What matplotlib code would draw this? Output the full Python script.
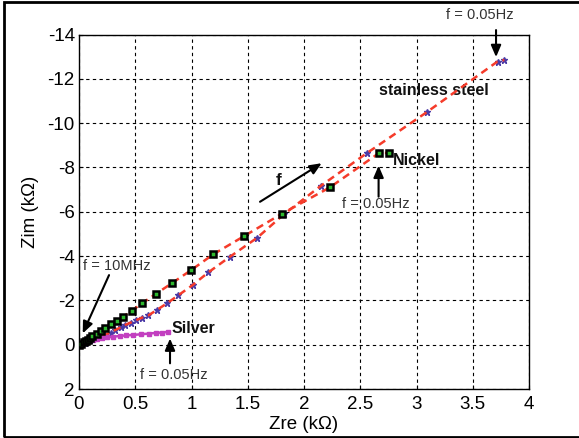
import numpy as np
import matplotlib
matplotlib.use("Agg")
import matplotlib.pyplot as plt
from matplotlib.patches import Rectangle

plt.rcParams['font.family'] = ['Liberation Sans', 'DejaVu Sans']
plt.rcParams['axes.unicode_minus'] = False

# impedance spectra, Zre / Zim in kOhm (Zim negative = capacitive)
nickel_re = [0.0, 0.02, 0.04, 0.06, 0.08, 0.10, 0.116, 0.157, 0.193, 0.231, 0.28,
             0.335, 0.39, 0.468, 0.557, 0.68, 0.824, 0.998, 1.194, 1.464, 1.80,
             2.23, 2.67, 2.756]
nickel_im = [0.0, -0.05, -0.10, -0.16, -0.22, -0.30, -0.39, -0.48, -0.60, -0.75, -0.92,
             -1.09, -1.26, -1.52, -1.86, -2.28, -2.77, -3.37, -4.08, -4.89, -5.90,
             -7.10, -8.66, -8.65]

steel_re = [0.0, 0.05, 0.10, 0.14, 0.19, 0.23, 0.28, 0.32, 0.37, 0.41, 0.46, 0.51,
            0.56, 0.616, 0.69, 0.78, 0.883, 1.01, 1.149, 1.342, 1.585, 1.82, 2.15,
            2.56, 3.09, 3.72, 3.78]
steel_im = [0.0, -0.08, -0.20, -0.29, -0.37, -0.44, -0.55, -0.66, -0.78, -0.89, -1.00,
            -1.11, -1.22, -1.32, -1.56, -1.86, -2.23, -2.69, -3.26, -3.97, -4.83,
            -5.88, -7.17, -8.65, -10.49, -12.78, -12.85]

silver_re = [0.0, 0.02, 0.04, 0.06, 0.09, 0.12, 0.16, 0.20, 0.25, 0.30, 0.36, 0.42,
             0.48, 0.55, 0.62, 0.68, 0.74, 0.79]
silver_im = [0.0, -0.05, -0.10, -0.14, -0.19, -0.23, -0.27, -0.30, -0.33, -0.36, -0.39,
             -0.42, -0.44, -0.47, -0.50, -0.53, -0.55, -0.58]

xticks = np.arange(0, 4.01, 0.5)
xlabels = ['0', '0.5', '1', '1.5', '2', '2.5', '3', '3.5', '4']
yticks = np.arange(-14, 2.01, 2)

red = '#f53b2a'
blue = '#4b3aa6'
magenta = '#c23fc0'

fig = plt.figure(figsize=(5.79, 4.38), dpi=100)
ax = fig.add_axes([79 / 579, 49 / 438, 450 / 579, 354.5 / 438])

# outer frame
fig.patches.append(Rectangle((3.5 / 579, 1.5 / 438), 1.0, 435 / 438,
                             transform=fig.transFigure, fill=False,
                             edgecolor='k', linewidth=2.0, zorder=0))

ax.plot(steel_re, steel_im, linestyle='none', marker='*', ms=4.5, color=blue, zorder=3)
ax.plot(steel_re, steel_im, linestyle=(0, (3, 2)), color=red, lw=1.8, zorder=4)

ax.plot(nickel_re, nickel_im, linestyle=(0, (3, 2)), color=red, lw=1.8, zorder=4)
ax.plot(nickel_re, nickel_im, linestyle='none', marker='s', ms=4.5, mfc='#2fb82f',
        mec='k', mew=1.8, zorder=5)

ax.plot(silver_re, silver_im, linestyle='-', color=magenta, lw=1.8, marker='s',
        ms=3, mfc=magenta, mec=magenta, zorder=4)

ax.set_xlim(0, 4)
ax.set_ylim(2, -14)
ax.set_xticks(xticks)
ax.set_xticklabels(xlabels)
ax.set_yticks(yticks)
ax.tick_params(direction='in', length=3, labelsize=13.5, width=0.8)
ax.tick_params(axis='x', pad=5)
ax.tick_params(axis='y', pad=3)
ax.grid(True, linestyle=(0, (3, 3)), color='k', linewidth=0.8)
for s in ax.spines.values():
    s.set_linewidth(1.0)

ax.set_xlabel('Zre (k\u03a9)', fontsize=13.5, labelpad=2)
ax.set_ylabel('Zim (k\u03a9)', fontsize=13.5, labelpad=6)

arrow = dict(arrowstyle='-|>,head_length=0.7,head_width=0.3', color='k', lw=1.5,
             shrinkA=0, shrinkB=0)
note = dict(fontsize=10.5, color='#333333')
bold = dict(fontsize=11.5, fontweight='bold', color='#111111')

# stainless steel, low-frequency end
ax.annotate('', xy=(3.707, -12.98), xytext=(3.707, -14.2), arrowprops=arrow,
            annotation_clip=False)
ax.text(3.564, -14.88, 'f = 0.05Hz', ha='center', va='center', clip_on=False, **note)
ax.text(2.667, -11.46, 'stainless steel', ha='left', va='center', **bold)

# nickel
ax.text(2.788, -8.33, 'Nickel', ha='left', va='center', **bold)
ax.annotate('', xy=(2.663, -8.08), xytext=(2.663, -6.68), arrowprops=arrow)
ax.text(2.335, -6.35, 'f = 0.05Hz', ha='left', va='center', **note)

# frequency direction
ax.annotate('', xy=(2.157, -8.19), xytext=(1.609, -6.45), arrowprops=arrow)
ax.text(1.772, -7.43, 'f', ha='center', va='center', fontsize=12.5,
        fontweight='bold', color='#111111')

# high-frequency end
ax.text(0.033, -3.55, 'f = 10MHz', ha='left', va='center', **note)
ax.annotate('', xy=(0.033, -0.51), xytext=(0.267, -3.14), arrowprops=arrow)

# silver
ax.text(0.824, -0.74, 'Silver', ha='left', va='center', **bold)
ax.annotate('', xy=(0.809, -0.28), xytext=(0.809, 0.84), arrowprops=arrow)
ax.text(0.542, 1.37, 'f = 0.05Hz', ha='left', va='center', **note)

fig.savefig('out.png', dpi=100)
